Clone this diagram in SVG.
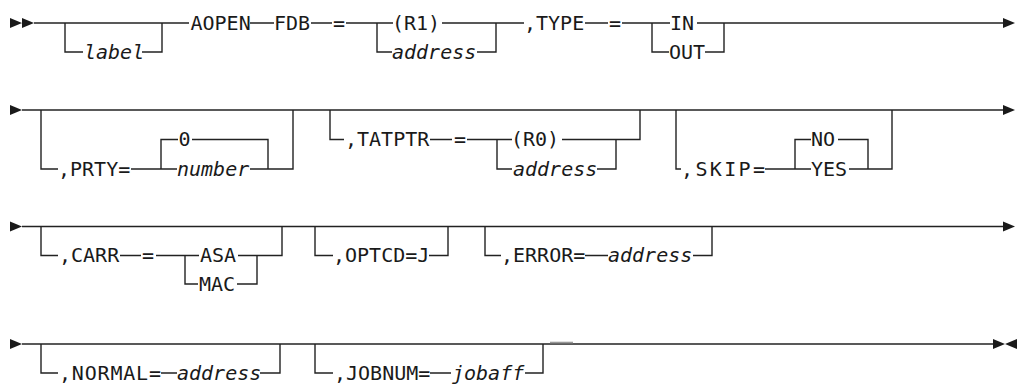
<svg xmlns="http://www.w3.org/2000/svg" width="1018" height="385" viewBox="0 0 1018 385">
<style>
.l{fill:none;stroke:#222;stroke-width:1.4}
.t{font-family:"DejaVu Sans Mono","Liberation Mono",monospace;font-size:20px;fill:#1a1a1a}
.i{font-style:italic}
.a{fill:#1a1a1a}
</style>
<rect width="1018" height="385" fill="#fff"/>
<g id="connectors">
<!-- row 1 -->
<path class="a" d="M10,18 L22,23 L10,28 Z M22,18 L34,23 L22,28 Z"/>
<path class="l" d="M34,23 H189"/>
<path class="l" d="M65,23 V52 H83 M142,52 H162 V23"/>
<path class="l" d="M250,23 H274 M311,23 H332 M346,23 H393 M377,23 V52 H392 M442,23 H496 M477,52 H496 V23 M496,23 H524"/>
<path class="l" d="M585,23 H608 M622,23 H670 M652,23 V52 H669 M697,23 H1003 M705,52 H724 V23"/>
<path class="a" d="M1003,18 L1015,23 L1003,28 Z"/>
<!-- row 2 -->
<path class="a" d="M10,105 L22,110 L10,115 Z"/>
<path class="l" d="M22,110 H1003"/>
<path class="l" d="M41,110 V169 H58 M131,169 H177 M161,169 V139.5 H178 M192,139.5 H268 V169 M250,169 H293 V110"/>
<path class="l" d="M330,110 V139.5 H344 M430,139.5 H452 M467,139.5 H512 M497,139.5 V169 H512 M562,139.5 H640 V110 M597,169 H616 V139.5"/>
<path class="l" d="M676,110 V169 H681 M765,169 H811 M795,169 V139.5 H811 M838,139.5 H868 V169 M849,169 H892 V110"/>
<path class="a" d="M1003,105 L1015,110 L1003,115 Z"/>
<!-- row 3 -->
<path class="a" d="M10,221.5 L22,226.5 L10,231.5 Z"/>
<path class="l" d="M22,226.5 H1003"/>
<path class="l" d="M41,226.5 V255.5 H58 M120,255.5 H141 M156,255.5 H199 M185,255.5 V284 H198 M238,255.5 H282 V226.5 M237,284 H257 V255.5"/>
<path class="l" d="M315,226.5 V255.5 H333 M429,255.5 H448 V226.5"/>
<path class="l" d="M485,226.5 V255.5 H501 M585,255.5 H608 M693,255.5 H712 V226.5"/>
<path class="a" d="M1003,221.5 L1015,226.5 L1003,231.5 Z"/>
<!-- row 4 -->
<path class="a" d="M10,339 L22,344 L10,349 Z"/>
<path class="l" d="M22,344 H993"/>
<path class="l" d="M41,344 V373 H58 M161,373 H177 M260,373 H280 V344"/>
<path class="l" d="M315,344 V373 H333 M430,373 H451 M525,373 H543 V344"/>
<path d="M550,342.5 H573" stroke="#999" stroke-width="1.6"/>
<path class="a" d="M993,339 L1005,344 L993,349 Z M1017,339 L1005,344 L1017,349 Z"/>
</g>
<g id="n-label"><text class="t i" x="84" y="58.5">label</text></g>
<g id="n-aopen"><text class="t" x="190.5" y="29.5">AOPEN</text></g>
<g id="n-fdb"><text class="t" x="274" y="29.5">FDB</text></g>
<g id="n-eq1"><text class="t" x="333" y="29.5">=</text></g>
<g id="n-r1"><text class="t" x="392" y="29.5">(R1)</text></g>
<g id="n-addr1"><text class="t i" x="392" y="58.5">address</text></g>
<g id="n-type"><text class="t" x="524" y="29.5">,TYPE</text></g>
<g id="n-eq2"><text class="t" x="609" y="29.5">=</text></g>
<g id="n-in"><text class="t" x="670" y="29.5">IN</text></g>
<g id="n-out"><text class="t" x="669" y="58.5">OUT</text></g>
<g id="n-prty"><text class="t" x="58" y="175.5">,PRTY=</text></g>
<g id="n-zero"><text class="t" x="178.5" y="146">0</text></g>
<g id="n-number"><text class="t i" x="177" y="175.5">number</text></g>
<g id="n-tatptr"><text class="t" x="345" y="146">,TATPTR</text></g>
<g id="n-eq3"><text class="t" x="454" y="146">=</text></g>
<g id="n-r0"><text class="t" x="511" y="146">(R0)</text></g>
<g id="n-addr2"><text class="t i" x="513" y="175.5">address</text></g>
<g id="n-skip"><text class="t" x="681" y="175.5" textLength="84" lengthAdjust="spacing">,SKIP=</text></g>
<g id="n-no"><text class="t" x="811" y="146">NO</text></g>
<g id="n-yes"><text class="t" x="811" y="175.5">YES</text></g>
<g id="n-carr"><text class="t" x="59" y="262">,CARR</text></g>
<g id="n-eq4"><text class="t" x="142" y="262">=</text></g>
<g id="n-asa"><text class="t" x="200" y="262">ASA</text></g>
<g id="n-mac"><text class="t" x="199" y="290.5">MAC</text></g>
<g id="n-optcd"><text class="t" x="333" y="262">,OPTCD=J</text></g>
<g id="n-error"><text class="t" x="501" y="262">,ERROR=</text></g>
<g id="n-addr3"><text class="t i" x="608" y="262">address</text></g>
<g id="n-normal"><text class="t" x="59" y="379.5" textLength="102" lengthAdjust="spacing">,NORMAL=</text></g>
<g id="n-addr4"><text class="t i" x="177" y="379.5">address</text></g>
<g id="n-jobnum"><text class="t" x="334" y="379.5">,JOBNUM=</text></g>
<g id="n-jobaff"><text class="t i" x="452" y="379.5">jobaff</text></g>
</svg>
